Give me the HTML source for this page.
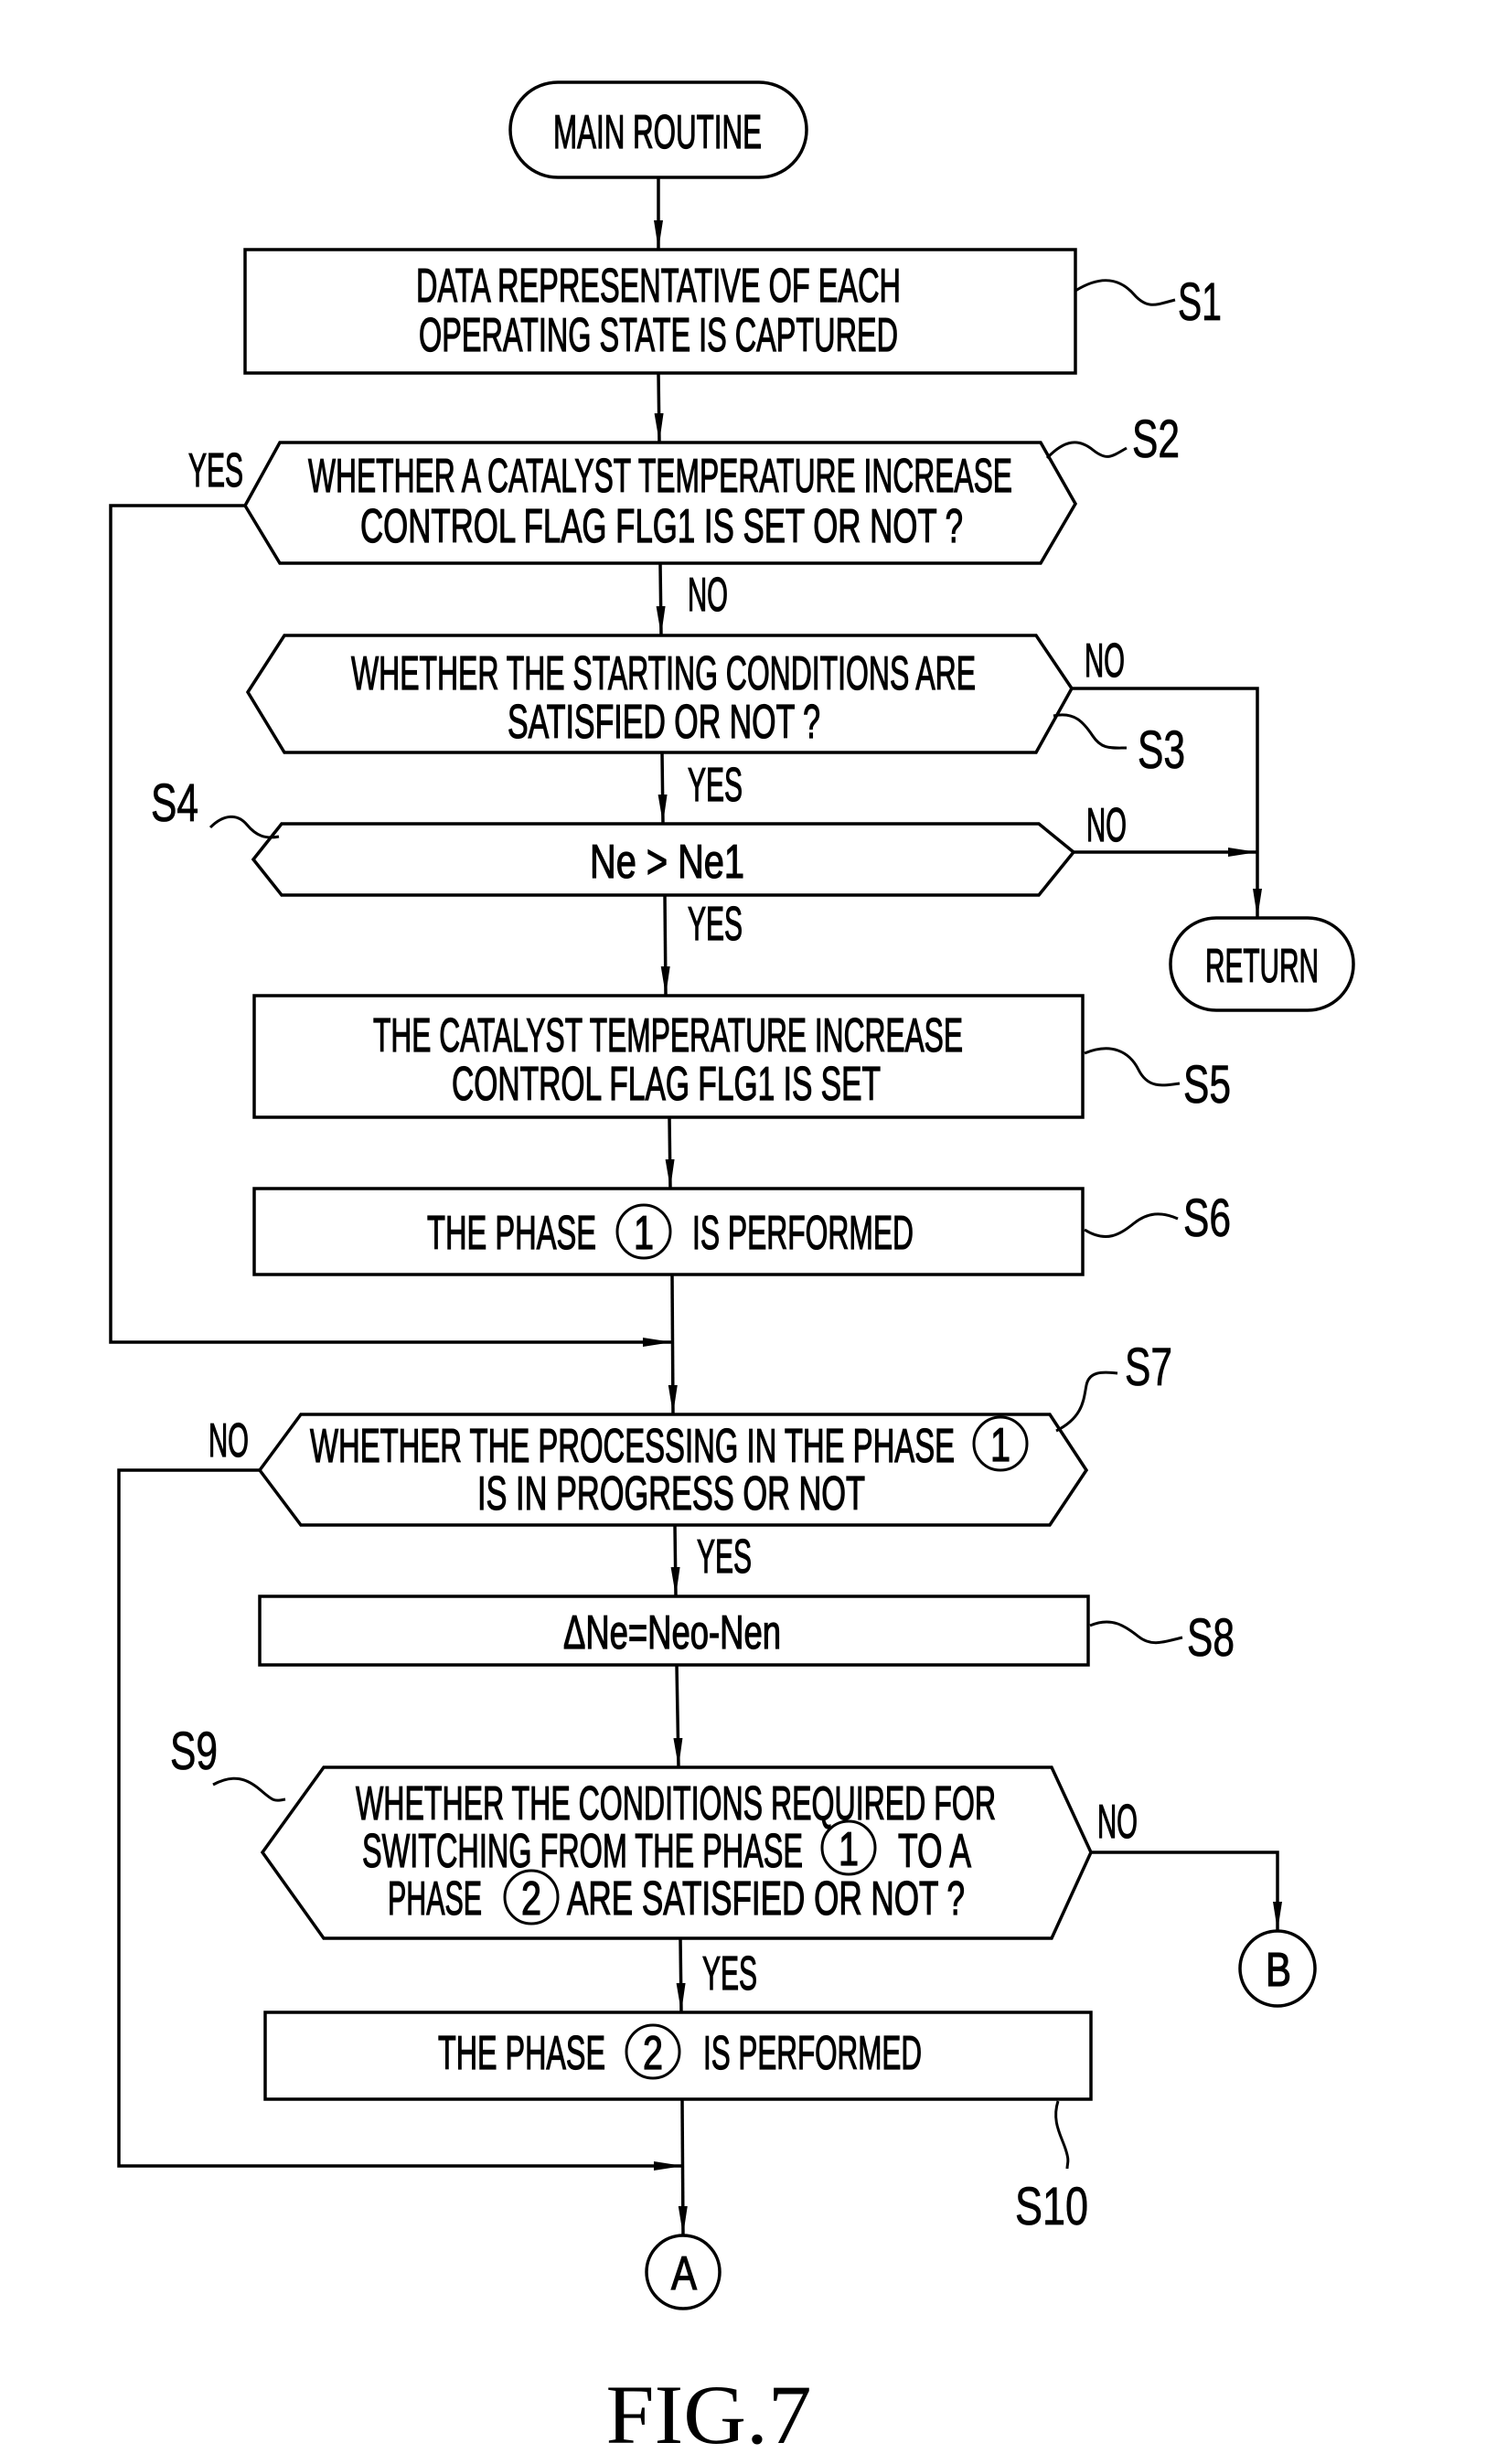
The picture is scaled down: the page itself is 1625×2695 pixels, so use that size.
<!DOCTYPE html>
<html><head><meta charset="utf-8"><style>
html,body{margin:0;padding:0;background:#fff;}
svg{display:block;}
.t{font-family:"Liberation Sans",sans-serif;font-size:52px;fill:#000;stroke:#000;stroke-width:1.3;}
.l{font-family:"Liberation Sans",sans-serif;font-size:58px;fill:#000;stroke:#000;stroke-width:0.8;}
.s{fill:none;stroke:#000;stroke-width:3.5;}
.c{fill:none;stroke:#000;stroke-width:3;}
</style></head><body>
<svg width="1625" height="2695" viewBox="0 0 1625 2695" xmlns="http://www.w3.org/2000/svg">
<defs>
<marker id="a" markerWidth="34" markerHeight="14" refX="32" refY="7" orient="auto" markerUnits="userSpaceOnUse">
<path d="M0,2 L32,7 L0,12 Z" fill="#000"/></marker>
</defs>
<rect x="558" y="90" width="324" height="104" rx="52" class="s"/>
<text class="t" x="605" y="162" textLength="228" lengthAdjust="spacingAndGlyphs">MAIN ROUTINE</text>
<line x1="720" y1="194" x2="720" y2="273" class="s" marker-end="url(#a)"/>
<line x1="720" y1="408" x2="721" y2="484" class="s" marker-end="url(#a)"/>
<line x1="722" y1="616" x2="723" y2="695" class="s" marker-end="url(#a)"/>
<line x1="724" y1="823" x2="725" y2="901" class="s" marker-end="url(#a)"/>
<line x1="727" y1="979" x2="728" y2="1089" class="s" marker-end="url(#a)"/>
<line x1="732" y1="1222" x2="733" y2="1300" class="s" marker-end="url(#a)"/>
<line x1="735" y1="1394" x2="736" y2="1547" class="s" marker-end="url(#a)"/>
<line x1="738" y1="1668" x2="739" y2="1746" class="s" marker-end="url(#a)"/>
<line x1="740" y1="1821" x2="742" y2="1933" class="s" marker-end="url(#a)"/>
<line x1="744" y1="2120" x2="745" y2="2201" class="s" marker-end="url(#a)"/>
<line x1="746" y1="2296" x2="747" y2="2445" class="s" marker-end="url(#a)"/>
<rect x="268" y="273" width="908" height="135" class="s"/>
<text class="t" x="455" y="330" textLength="530" lengthAdjust="spacingAndGlyphs">DATA REPRESENTATIVE OF EACH</text>
<text class="t" x="458" y="384" textLength="524" lengthAdjust="spacingAndGlyphs">OPERATING STATE IS CAPTURED</text>
<path d="M1176 318 C1205 300,1225 305,1240 322 S1265 333,1285 328" class="c"/>
<text class="l" x="1288" y="350" textLength="48" lengthAdjust="spacingAndGlyphs">S1</text>
<polygon points="268,553 306,484 1138,484 1176,551 1138,616 306,616" class="s"/>
<text class="t" x="337" y="538" textLength="770" lengthAdjust="spacingAndGlyphs">WHETHER A CATALYST TEMPERATURE INCREASE</text>
<text class="t" x="394" y="593" textLength="659" lengthAdjust="spacingAndGlyphs">CONTROL FLAG FLG1 IS SET OR NOT ?</text>
<path d="M1145 501 C1165 480,1180 480,1195 492 S1215 500,1232 490" class="c"/>
<text class="l" x="1238" y="500" textLength="52" lengthAdjust="spacingAndGlyphs">S2</text>
<text class="t" x="206" y="532" textLength="60" lengthAdjust="spacingAndGlyphs">YES</text>
<text class="t" x="752" y="668" textLength="44" lengthAdjust="spacingAndGlyphs">NO</text>
<polyline points="268,553 121,553 121,1468 735,1468" class="s" marker-end="url(#a)"/>
<polygon points="271,757 311,695 1133,695 1172,753 1133,823 311,823" class="s"/>
<text class="t" x="384" y="754" textLength="683" lengthAdjust="spacingAndGlyphs">WHETHER THE STARTING CONDITIONS ARE</text>
<text class="t" x="555" y="807" textLength="342" lengthAdjust="spacingAndGlyphs">SATISFIED OR NOT ?</text>
<path d="M1152 783 C1175 778,1185 790,1195 805 S1215 818,1232 818" class="c"/>
<text class="l" x="1244" y="840" textLength="52" lengthAdjust="spacingAndGlyphs">S3</text>
<text class="t" x="1186" y="740" textLength="44" lengthAdjust="spacingAndGlyphs">NO</text>
<text class="t" x="752" y="876" textLength="60" lengthAdjust="spacingAndGlyphs">YES</text>
<polyline points="1172,753 1375,753 1375,1004" class="s" marker-end="url(#a)"/>
<polygon points="277,940 308,901 1136,901 1174,932 1136,979 308,979" class="s"/>
<text class="t" x="645" y="960" textLength="169" lengthAdjust="spacingAndGlyphs">Ne &gt; Ne1</text>
<path d="M230 905 C245 890,260 890,270 902 S290 918,305 915" class="c"/>
<text class="l" x="165" y="898" textLength="52" lengthAdjust="spacingAndGlyphs">S4</text>
<text class="t" x="1188" y="920" textLength="44" lengthAdjust="spacingAndGlyphs">NO</text>
<text class="t" x="752" y="1028" textLength="60" lengthAdjust="spacingAndGlyphs">YES</text>
<line x1="1174" y1="932" x2="1375" y2="932" class="s" marker-end="url(#a)"/>
<rect x="1280" y="1004" width="200" height="101" rx="50" class="s"/>
<text class="t" x="1318" y="1074" textLength="124" lengthAdjust="spacingAndGlyphs">RETURN</text>
<rect x="278" y="1089" width="906" height="133" class="s"/>
<text class="t" x="408" y="1150" textLength="645" lengthAdjust="spacingAndGlyphs">THE CATALYST TEMPERATURE INCREASE</text>
<text class="t" x="494" y="1203" textLength="469" lengthAdjust="spacingAndGlyphs">CONTROL FLAG FLG1 IS SET</text>
<path d="M1186 1152 C1215 1140,1235 1150,1245 1170 S1270 1188,1290 1185" class="c"/>
<text class="l" x="1294" y="1206" textLength="52" lengthAdjust="spacingAndGlyphs">S5</text>
<rect x="278" y="1300" width="906" height="94" class="s"/>
<text class="t" x="467" y="1366" textLength="185" lengthAdjust="spacingAndGlyphs">THE PHASE</text>
<circle cx="704" cy="1347" r="29" class="c"/>
<text class="t" x="693" y="1366" textLength="22" lengthAdjust="spacingAndGlyphs">1</text>
<text class="t" x="757" y="1366" textLength="242" lengthAdjust="spacingAndGlyphs">IS PERFORMED</text>
<path d="M1186 1345 C1210 1360,1225 1350,1240 1338 S1270 1325,1288 1333" class="c"/>
<text class="l" x="1294" y="1352" textLength="52" lengthAdjust="spacingAndGlyphs">S6</text>
<polygon points="284,1608 329,1547 1148,1547 1188,1608 1148,1668 329,1668" class="s"/>
<text class="t" x="339" y="1599" textLength="705" lengthAdjust="spacingAndGlyphs">WHETHER THE PROCESSING IN THE PHASE</text>
<circle cx="1094" cy="1579" r="29" class="c"/>
<text class="t" x="1083" y="1598" textLength="22" lengthAdjust="spacingAndGlyphs">1</text>
<text class="t" x="522" y="1651" textLength="424" lengthAdjust="spacingAndGlyphs">IS IN PROGRESS OR NOT</text>
<path d="M1155 1565 C1185 1550,1185 1530,1188 1515 S1205 1500,1222 1502" class="c"/>
<text class="l" x="1230" y="1515" textLength="52" lengthAdjust="spacingAndGlyphs">S7</text>
<text class="t" x="228" y="1593" textLength="44" lengthAdjust="spacingAndGlyphs">NO</text>
<text class="t" x="762" y="1720" textLength="60" lengthAdjust="spacingAndGlyphs">YES</text>
<polyline points="284,1608 130,1608 130,2369 747,2369" class="s" marker-end="url(#a)"/>
<rect x="284" y="1746" width="906" height="75" class="s"/>
<text class="t" x="616" y="1803" textLength="238" lengthAdjust="spacingAndGlyphs">ΔNe=Neo-Nen</text>
<path d="M1192 1778 C1215 1768,1230 1778,1245 1790 S1275 1795,1293 1791" class="c"/>
<text class="l" x="1298" y="1811" textLength="52" lengthAdjust="spacingAndGlyphs">S8</text>
<polygon points="287,2026 354,1933 1150,1933 1193,2026 1150,2120 354,2120" class="s"/>
<text class="t" x="389" y="1990" textLength="700" lengthAdjust="spacingAndGlyphs">WHETHER THE CONDITIONS REQUIRED FOR</text>
<text class="t" x="396" y="2042" textLength="482" lengthAdjust="spacingAndGlyphs">SWITCHING FROM THE PHASE</text>
<circle cx="928" cy="2021" r="29" class="c"/>
<text class="t" x="917" y="2040" textLength="22" lengthAdjust="spacingAndGlyphs">1</text>
<text class="t" x="982" y="2042" textLength="80" lengthAdjust="spacingAndGlyphs">TO A</text>
<text class="t" x="424" y="2094" textLength="103" lengthAdjust="spacingAndGlyphs">PHASE</text>
<circle cx="581" cy="2075" r="29" class="c"/>
<text class="t" x="570" y="2094" textLength="22" lengthAdjust="spacingAndGlyphs">2</text>
<text class="t" x="620" y="2094" textLength="435" lengthAdjust="spacingAndGlyphs">ARE SATISFIED OR NOT ?</text>
<path d="M233 1952 C255 1940,270 1945,285 1958 S300 1970,312 1968" class="c"/>
<text class="l" x="186" y="1935" textLength="52" lengthAdjust="spacingAndGlyphs">S9</text>
<text class="t" x="1200" y="2010" textLength="44" lengthAdjust="spacingAndGlyphs">NO</text>
<text class="t" x="768" y="2176" textLength="60" lengthAdjust="spacingAndGlyphs">YES</text>
<polyline points="1193,2026 1397,2026 1397,2112" class="s" marker-end="url(#a)"/>
<circle cx="1397" cy="2153" r="41" class="s"/>
<text class="t" x="1384" y="2172" textLength="28" lengthAdjust="spacingAndGlyphs">B</text>
<rect x="290" y="2201" width="903" height="95" class="s"/>
<text class="t" x="479" y="2263" textLength="183" lengthAdjust="spacingAndGlyphs">THE PHASE</text>
<circle cx="714" cy="2244" r="29" class="c"/>
<text class="t" x="703" y="2263" textLength="22" lengthAdjust="spacingAndGlyphs">2</text>
<text class="t" x="769" y="2263" textLength="239" lengthAdjust="spacingAndGlyphs">IS PERFORMED</text>
<path d="M1157 2298 C1150 2320,1160 2335,1165 2350 S1167 2365,1167 2372" class="c"/>
<text class="l" x="1110" y="2433" textLength="80" lengthAdjust="spacingAndGlyphs">S10</text>
<circle cx="747" cy="2485" r="40" class="s"/>
<text class="t" x="734" y="2504" textLength="28" lengthAdjust="spacingAndGlyphs">A</text>
<text x="775" y="2672" text-anchor="middle" style="font-family:'Liberation Serif',serif;font-size:92px;" textLength="225" lengthAdjust="spacingAndGlyphs">FIG.7</text>
</svg>
</body></html>
